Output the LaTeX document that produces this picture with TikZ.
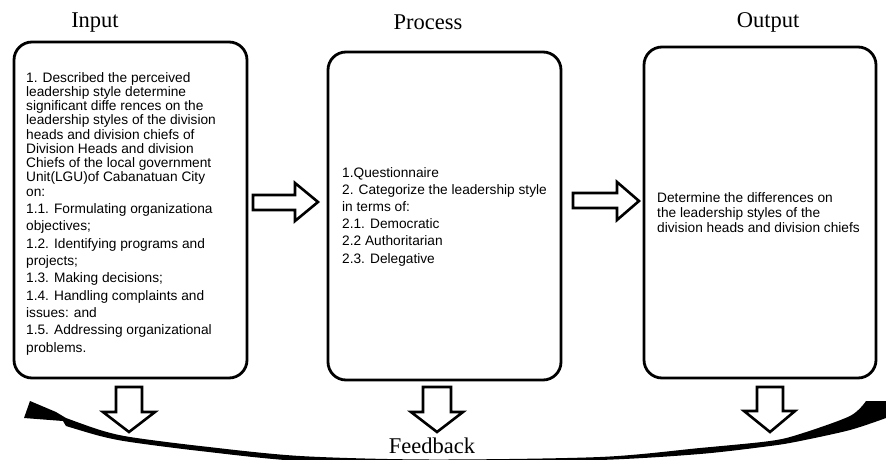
\documentclass[tikz,border=0pt]{standalone}
\usepackage{fontspec}
\setmainfont{Liberation Serif}
\newfontfamily\arialf{Liberation Sans}
\begin{document}
\begin{tikzpicture}[x=1pt,y=-1pt,
  box/.style={draw, line width=2.8pt, rounded corners=18pt, inner sep=0pt},
  title/.style={font=\fontsize{22.5}{24}\selectfont, inner sep=0pt},
  body/.style={align=left, inner sep=0pt, anchor=north west},
  blockarrow/.style={draw, line width=2.6pt, fill=white, line join=miter}]
\useasboundingbox (0,0) rectangle (886,460);
% feedback swoosh (drawn first, behind the arrows)
\fill[black] (866,401) -- (886,401) -- (886,418)
  -- plot[smooth] coordinates {(886,418) (850,430) (800,441) (770,446) (700,454) (600,460) (430,463) (300,461) (200,451) (130,442) (100,436) (66,426)}
  -- (63,421) -- (24,418) -- (30,401) -- (56,412) -- (66,418)
  -- plot[smooth] coordinates {(66,418) (100,430) (130,437) (200,446) (300,456) (430,459.5) (600,457) (700,448) (770,441) (800,434) (850,416) (866,401)}
  -- cycle;
% boxes
\node[box, minimum width=233pt, minimum height=336pt] (inbox) at (130.5,210) {};
\node[box, minimum width=233pt, minimum height=328pt] (procbox) at (444.5,216) {};
\node[box, minimum width=232pt, minimum height=331pt] (outbox) at (760,212.5) {};
% titles
\node[title] (tin) at (95,23) {Input};
\node[title] (tproc) at (428,22) {Process};
\node[title] (tout) at (768,22) {Output};
\node[title] (tfb) at (432,446) {Feedback};
% texts
\node[body, font=\arialf\fontsize{13.7}{14.25}\selectfont] (intext) at (26,72) {%
1. Described the perceived\\
leadership style determine\\
significant diffe rences on the\\
leadership styles of the division\\
heads and division chiefs of\\
Division Heads and division\\
Chiefs of the local government\\
Unit(LGU)of Cabanatuan City\\
on:\\[3.1pt]
1.1. Formulating organizationa\\[3.1pt]
objectives;\\[3.1pt]
1.2. Identifying programs and\\[3.1pt]
projects;\\[3.1pt]
1.3. Making decisions;\\[3.1pt]
1.4. Handling complaints and\\[3.1pt]
issues: and\\[3.1pt]
1.5. Addressing organizational\\[3.1pt]
problems.};
\node[body, font=\arialf\fontsize{13.7}{17.2}\selectfont] (proctext) at (342,167) {%
1.Questionnaire\\
2. Categorize the leadership style\\
in terms of:\\
2.1. Democratic\\
2.2 Authoritarian\\
2.3. Delegative};
\node[body, font=\arialf\fontsize{13.7}{15}\selectfont] (outtext) at (657,192) {%
Determine the differences on\\
the leadership styles of the\\
division heads and division chiefs};
% right block arrows
\draw[blockarrow] (253,195) -- (295,195) -- (295,183) -- (318,202) -- (295,221) -- (295,210) -- (253,210) -- cycle;
\draw[blockarrow] (573,193) -- (617,193) -- (617,182) -- (639,201) -- (617,220) -- (617,208) -- (573,208) -- cycle;
% down block arrows
\draw[blockarrow] (116,387) -- (142,387) -- (142,412) -- (155,412) -- (129,432) -- (103,412) -- (116,412) -- cycle;
\draw[blockarrow] (423,387) -- (451,387) -- (451,412) -- (463,412) -- (437,432) -- (411,412) -- (423,412) -- cycle;
\draw[blockarrow] (757,387) -- (783,387) -- (783,411) -- (795,411) -- (770,432) -- (744,411) -- (757,411) -- cycle;
\end{tikzpicture}
\end{document}
